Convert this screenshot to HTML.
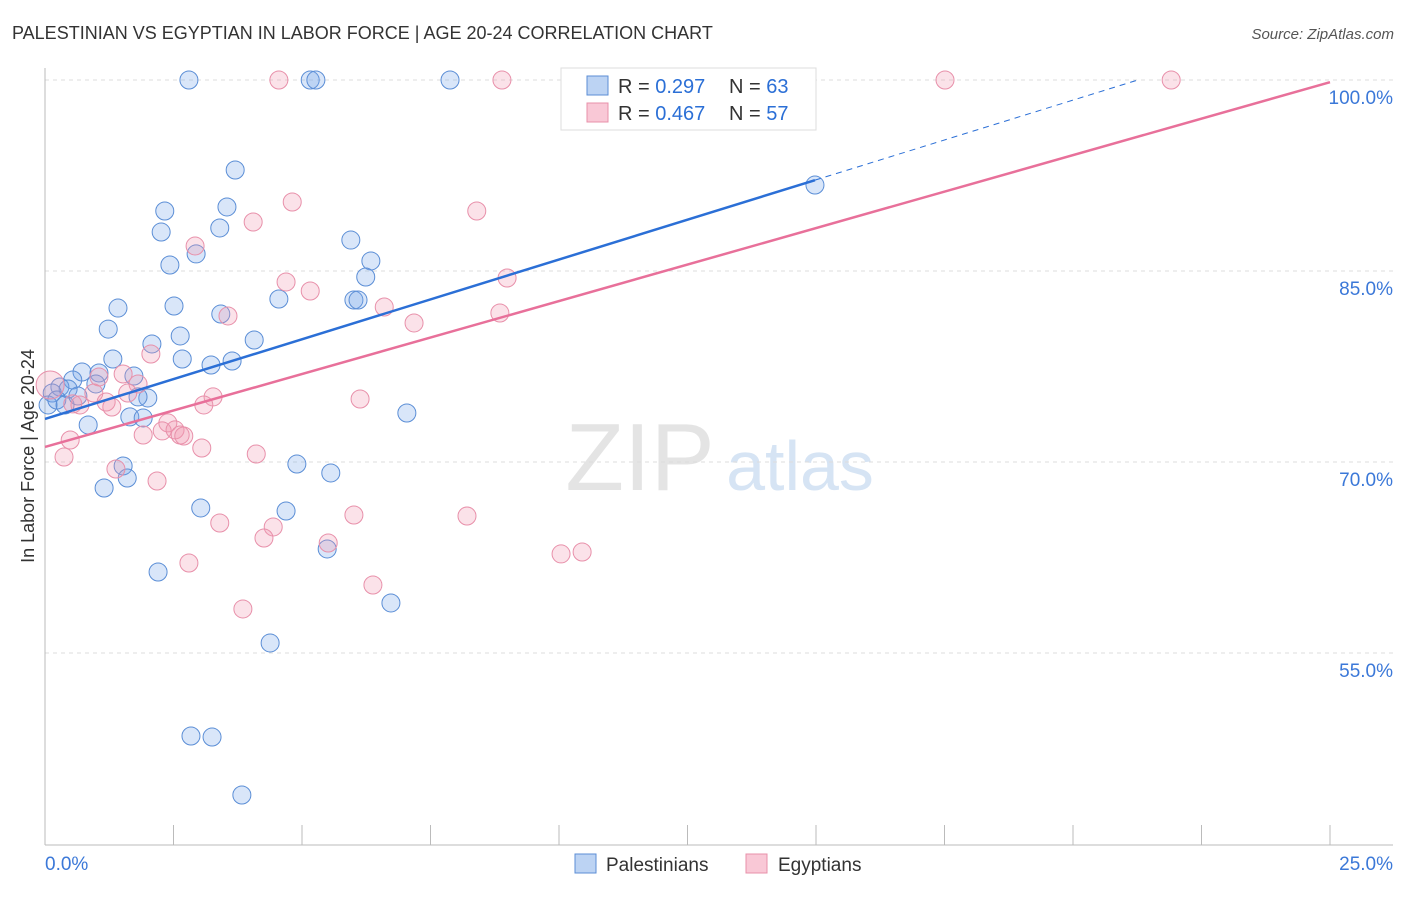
<!DOCTYPE html>
<html><head><meta charset="utf-8"><style>
body{margin:0;background:#fff;font-family:"Liberation Sans",sans-serif;}
svg text{font-family:"Liberation Sans",sans-serif;}
</style></head><body>
<svg id="c" width="1406" height="892">
<text x="12" y="39" font-size="18" fill="#333">PALESTINIAN VS EGYPTIAN IN LABOR FORCE | AGE 20-24 CORRELATION CHART</text>
<text x="1394" y="39" font-size="15" fill="#555" text-anchor="end" font-style="italic">Source: ZipAtlas.com</text>
<text x="640" y="490" font-size="96" fill="#e4e4e4" text-anchor="middle" font-family="Liberation Serif">ZIP</text>
<text x="800" y="490" font-size="70" fill="#d6e4f4" text-anchor="middle">atlas</text>
<g id="grid"></g><g id="pts"></g><g id="lines"></g>
<text transform="translate(34,456) rotate(-90)" font-size="18" fill="#333" text-anchor="middle">In Labor Force | Age 20-24</text>
<g>
<rect x="561" y="68" width="255" height="62" fill="#fff" stroke="#ddd"/>
<rect x="587" y="76" width="21" height="19" fill="#bcd3f3" stroke="#5b8ed6"/>
<rect x="587" y="103" width="21" height="19" fill="#f9c8d6" stroke="#e890aa"/>
<text x="618" y="93" font-size="20" fill="#333">R = <tspan fill="#2b6fd6">0.297</tspan></text>
<text x="729" y="93" font-size="20" fill="#333">N = <tspan fill="#2b6fd6">63</tspan></text>
<text x="618" y="120" font-size="20" fill="#333">R = <tspan fill="#2b6fd6">0.467</tspan></text>
<text x="729" y="120" font-size="20" fill="#333">N = <tspan fill="#2b6fd6">57</tspan></text>
</g>
<g>
<rect x="575" y="854" width="21" height="19" fill="#bcd3f3" stroke="#5b8ed6"/>
<text x="606" y="871" font-size="19" fill="#333">Palestinians</text>
<rect x="746" y="854" width="21" height="19" fill="#f9c8d6" stroke="#e890aa"/>
<text x="778" y="871" font-size="19" fill="#333">Egyptians</text>
</g>
</svg>
<script>
const yTicks=[100,85,70,55];
const xTickLabels=["0.0%","25.0%"];
const blueX=[2.80,5.16,5.27,7.88,13.56,14.98,3.70,2.33,3.54,2.26,3.40,2.94,2.43,5.95,6.34,6.24,4.55,6.01,6.09,1.42,2.51,3.42,1.23,2.63,2.08,4.07,1.32,2.67,3.23,3.64,0.72,1.05,1.73,0.54,0.99,0.29,0.45,0.14,0.06,0.23,0.39,0.64,2.00,1.81,1.65,1.91,0.84,7.04,1.52,1.60,1.15,4.90,5.56,3.03,4.69,5.49,2.20,6.73,4.38,2.84,3.25,3.83];
const blueY=[100,100,100,100,100,91.75,92.93,89.71,90.03,88.06,88.38,86.34,85.47,87.43,85.79,84.53,82.80,82.72,82.72,82.09,82.25,81.62,80.44,79.90,79.27,79.58,78.09,78.09,77.62,77.93,77.07,76.99,76.75,76.44,76.13,75.89,75.73,75.42,74.48,74.87,74.48,75.18,75.03,75.11,73.54,73.46,72.91,73.85,69.69,68.74,67.96,69.84,69.14,66.39,66.15,63.17,61.36,58.93,55.79,48.48,48.40,43.85];
const pinkX=[4.55,8.89,17.51,21.91,4.81,8.40,4.05,2.92,4.69,5.16,8.99,6.60,3.56,8.85,7.18,2.06,1.52,1.05,1.81,0.10,0.95,3.27,1.61,0.54,0.68,1.19,1.30,3.09,6.13,2.39,2.28,2.53,2.63,2.70,1.91,0.49,3.05,0.37,4.11,1.38,2.18,3.40,6.01,8.21,4.44,4.26,5.51,10.04,10.45,2.80,6.38,3.85];
const pinkY=[100,100,100,100,90.42,89.71,88.85,86.96,84.14,83.43,84.45,82.17,81.47,81.70,80.92,78.48,76.91,76.68,76.13,76.05,75.42,75.11,75.42,74.56,74.48,74.71,74.32,74.48,74.95,73.07,72.44,72.52,72.12,72.04,72.12,71.73,71.10,70.39,70.63,69.45,68.51,65.21,65.84,65.76,64.90,64.03,63.64,62.78,62.93,62.07,60.34,58.46];
const blueFit=[73.38,1.252];
const pinkFit=[71.18,1.146];
const NS="http://www.w3.org/2000/svg";
const sx=v=>45+v/25*1285, sy=v=>80+(100-v)/15*191;
function mk(t,a,p){const e=document.createElementNS(NS,t);for(const k in a)e.setAttribute(k,a[k]);p.appendChild(e);return e;}
const grid=document.getElementById('grid');
yTicks.forEach(t=>{
 const l=mk('line',{x1:45,x2:1393,y1:sy(t),y2:sy(t),stroke:'#ddd','stroke-dasharray':'4,4'},grid);
 
 
 const tx=mk('text',{x:1393,y:sy(t)+24,'font-size':19,fill:'#3b78d8','text-anchor':'end'},grid);
 tx.textContent=t.toFixed(1)+'%';
 
 
});
mk('line',{x1:45,x2:45,y1:68,y2:845,stroke:'#bbb'},grid);
mk('line',{x1:45,x2:1393,y1:845,y2:845,stroke:'#bbb'},grid);
for(let i=0;i<=10;i++){const x=sx(i*2.5);const t=mk('line',{x1:x,x2:x,y1:825,y2:845,stroke:'#bbb'},grid);
 
 }
[[0,'start',45],[1,'end',1393]].forEach(([i,a,x])=>{const t=mk('text',{x:x,y:870,'font-size':19,fill:'#3b78d8','text-anchor':a},grid);t.textContent=xTickLabels[i];
 
 });
const pts=document.getElementById('pts');
blueX.forEach((x,i)=>{const c=mk('circle',{cx:sx(x),cy:sy(blueY[i]),r:9,fill:'rgba(120,165,235,0.28)',stroke:'#5b8ed6','stroke-width':1},pts);
 
 });
pinkX.forEach((x,i)=>{const c=mk('circle',{cx:sx(x),cy:sy(pinkY[i]),r:i==19?14:9,fill:'rgba(240,150,175,0.28)',stroke:'#e890aa','stroke-width':1},pts);
 
 });
const lg=document.getElementById('lines');
const bl=mk('line',{x1:sx(0),y1:sy(blueFit[0]),x2:sx(14.98),y2:sy(blueFit[0]+blueFit[1]*14.98),stroke:'#2b6fd6','stroke-width':2.5},lg);


const xe=(100-blueFit[0])/blueFit[1];
const bd=mk('line',{x1:sx(14.98),y1:sy(blueFit[0]+blueFit[1]*14.98),x2:sx(xe),y2:sy(100),stroke:'#2b6fd6','stroke-width':1,'stroke-dasharray':'6,5'},lg);


const pl=mk('line',{x1:sx(0),y1:sy(pinkFit[0]),x2:sx(25),y2:sy(pinkFit[0]+pinkFit[1]*25),stroke:'#e8709a','stroke-width':2.5},lg);


</script>
</body></html>
